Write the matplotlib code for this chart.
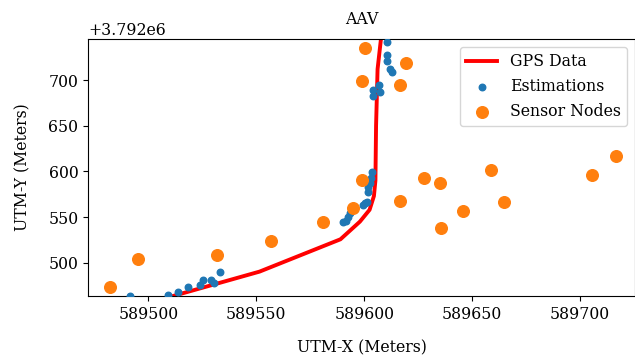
import matplotlib
matplotlib.use("Agg")
import matplotlib.pyplot as plt

plt.rcParams['font.family'] = ['DejaVu Serif']
plt.rcParams['font.size'] = 11.3

Y0 = 3792000

gps_x = [589500, 589551.5, 589589, 589598, 589602.5, 589604.5, 589605.2, 589605.5, 589606.2, 589608]
gps_y = [456, 490.3, 525.7, 545, 558, 573, 590, 650, 712, 750]

est_x = [589491.5, 589509.1, 589513.8, 589518.4, 589523.9, 589525.3, 589529.0, 589530.6, 589533.2,
         589590.3, 589591.5, 589592.6, 589593.4, 589599.5, 589600.3, 589601.4, 589601.9, 589601.9,
         589602.6, 589603.0, 589603.4, 589604.2, 589603.9, 589606.9, 589607.5, 589610.4, 589610.6,
         589610.4, 589611.9, 589612.7]
est_y = [463.5, 464.5, 468.4, 473.0, 475.7, 480.8, 480.6, 477.9, 490.3,
         545.0, 546.0, 550.4, 554.2, 563.2, 565.1, 566.8, 577.8, 583.3,
         587.0, 592.5, 599.7, 689.1, 682.8, 694.5, 686.5, 741.9, 727.4,
         720.8, 712.0, 708.4]

node_x = [589482.1, 589495.1, 589531.9, 589556.8, 589580.9, 589594.8, 589598.8, 589600.3, 589598.9,
          589619.6, 589616.7, 589616.7, 589627.8, 589634.9, 589635.8, 589645.7, 589658.8, 589664.7,
          589705.7, 589716.7]
node_y = [473.9, 503.8, 508.5, 523.9, 545.0, 560.0, 590.3, 735.0, 698.9,
          718.9, 694.5, 568.0, 593.1, 587.0, 537.7, 557.0, 601.2, 566.2,
          596.1, 616.5]

fig = plt.figure(figsize=(6.35, 3.58), dpi=100)
ax = fig.add_axes([88/635, 1-296/358, (635-88)/635, (296-39)/358])

ax.plot(gps_x, [Y0 + v for v in gps_y], color='red', lw=2.8, label='GPS Data', zorder=2)
ax.scatter(est_x, [Y0 + v for v in est_y], s=22, color='#1f77b4', label='Estimations', zorder=3)
ax.scatter(node_x, [Y0 + v for v in node_y], s=70, color='#ff7f0e', label='Sensor Nodes', zorder=4)

ax.set_xlim(589472, 589725.5)
ax.set_ylim(Y0 + 463.6, Y0 + 745)
ax.set_xticks([589500, 589550, 589600, 589650, 589700])
ax.set_yticks([Y0 + v for v in [500, 550, 600, 650, 700]])
ax.set_title('AAV', fontsize=11.3, pad=11)
ax.set_xlabel('UTM-X (Meters)', labelpad=12)
ax.set_ylabel('UTM-Y (Meters)', labelpad=12)
ax.legend(loc='upper right')

fig.savefig('out.png', dpi=100)
